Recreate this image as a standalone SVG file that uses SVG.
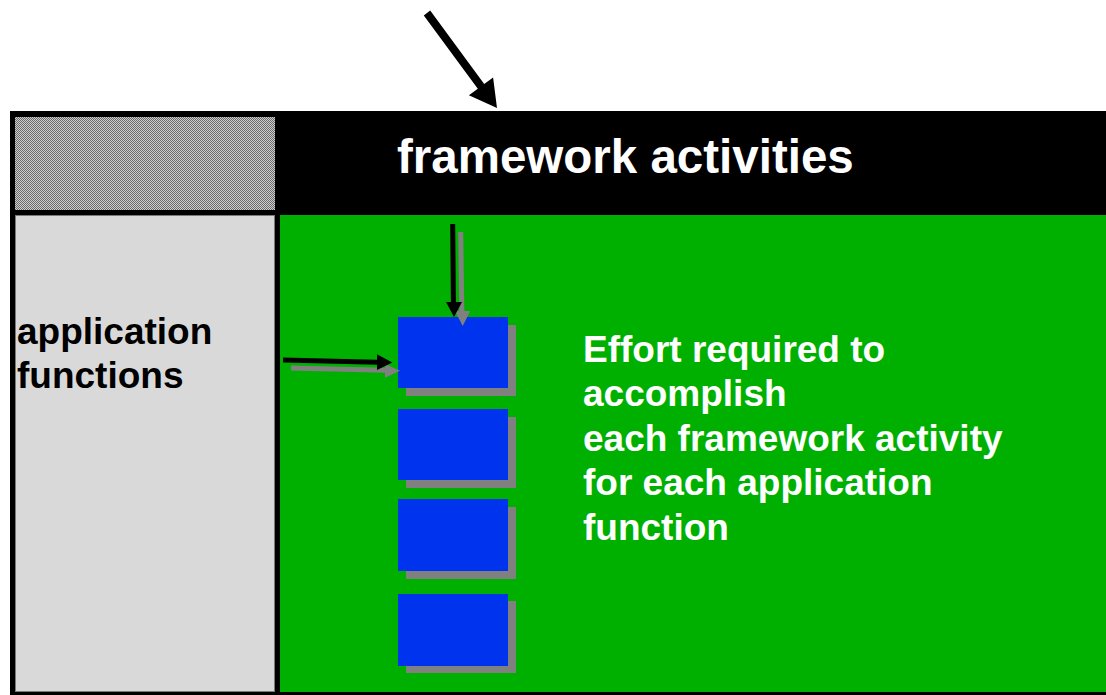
<svg xmlns="http://www.w3.org/2000/svg" width="1106" height="695" viewBox="0 0 1106 695">
  <style>
    .lbl { font-family: "Liberation Sans", Arial, sans-serif; font-weight: bold; }
    .box { fill: #0033ee; }
    .shadow { fill: #808080; }
    .arrow-black { fill: #000000; }
    .arrow-gray { fill: #808080; }
  </style>
  <defs>
    <!-- fine dither used for the corner cell -->
    <pattern id="dither" width="2" height="2" patternUnits="userSpaceOnUse">
      <rect width="2" height="2" fill="#cfcfcf"/>
      <rect x="0" y="0" width="1" height="1" fill="#6a6a6a"/>
      <rect x="1" y="1" width="1" height="1" fill="#6a6a6a"/>
    </pattern>
  </defs>

  <rect width="1106" height="695" fill="#ffffff"/>

  <!-- table frame -->
  <g id="frame">
    <rect x="10" y="111" width="1096" height="584" fill="#000000"/>
  </g>

  <g id="corner-cell">
    <rect x="15" y="117" width="260" height="93" fill="url(#dither)"/>
  </g>

  <g id="header-framework-activities">
    <text class="lbl" x="397" y="173" font-size="47.5" fill="#ffffff">framework activities</text>
  </g>

  <g id="row-application-functions">
    <rect x="15.5" y="215.5" width="259" height="476" fill="#d9d9d9" stroke="#7a7a7a" stroke-width="1"/>
    <text class="lbl" x="17" y="343.5" font-size="37" fill="#000000">application</text>
    <text class="lbl" x="17" y="388" font-size="37" fill="#000000">functions</text>
  </g>

  <g id="effort-area">
    <rect x="280" y="215" width="826" height="477" fill="#00b000"/>
    <text class="lbl" font-size="37" fill="#ffffff">
      <tspan x="583" y="361.5">Effort required to</tspan>
      <tspan x="583" y="406">accomplish</tspan>
      <tspan x="583" y="450.5">each framework activity</tspan>
      <tspan x="583" y="495">for each application</tspan>
      <tspan x="583" y="539.5">function</tspan>
    </text>
  </g>

  <!-- effort cells with drop shadows -->
  <g id="cell-1">
    <rect class="shadow" x="406" y="325" width="110" height="71"/>
    <rect class="box" x="398" y="317" width="110" height="71"/>
  </g>
  <g id="cell-2">
    <rect class="shadow" x="406" y="417" width="110" height="71"/>
    <rect class="box" x="398" y="409" width="110" height="71"/>
  </g>
  <g id="cell-3">
    <rect class="shadow" x="406" y="507" width="110" height="72"/>
    <rect class="box" x="398" y="499" width="110" height="72"/>
  </g>
  <g id="cell-4">
    <rect class="shadow" x="406" y="601" width="110" height="72"/>
    <rect class="box" x="398" y="594" width="110" height="72"/>
  </g>

  <g id="connectors">
    <!-- top pointer into the header -->
    <polygon class="arrow-black" points="423.8,15.4 430.2,10.6 484.2,83.9 493.1,77.4 497,108 468.9,95.2 477.8,88.7"/>
    <!-- shadows -->
    <polygon class="arrow-gray" points="458.2,232 463.2,232 464.3,311 470.3,311 462.7,326 455,311 459.3,311"/>
    <polygon class="arrow-gray" points="291,365.5 385,367.8 385,364 400,370.8 385,377.7 385,372.8 291,370.5"/>
    <!-- black pointers -->
    <polygon class="arrow-black" points="450.2,224 455.2,224 455.9,302 462,302 454,317 446,302 450.9,302"/>
    <polygon class="arrow-black" points="283,357.5 377,359.8 377,354.3 392.3,362.6 377,370 377,364.8 283,362.5"/>
  </g>
</svg>
